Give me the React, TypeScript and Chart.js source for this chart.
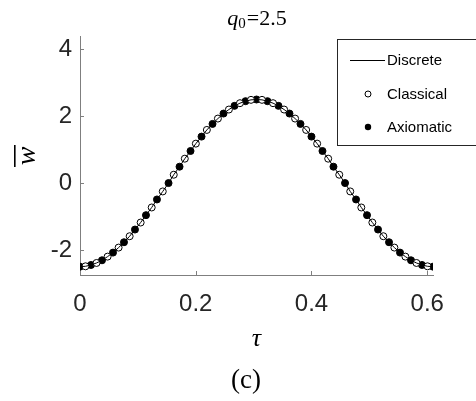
import React, { useEffect, useRef } from "react";
import { Chart, registerables } from "chart.js";

Chart.register(...registerables);

const axiomaticTau = [0, 0.019, 0.038, 0.057, 0.076, 0.095, 0.114, 0.133, 0.153, 0.172, 0.191, 0.21, 0.229, 0.248, 0.267, 0.286, 0.305, 0.324, 0.343, 0.362, 0.381, 0.4, 0.419, 0.438, 0.458, 0.477, 0.496, 0.515, 0.534, 0.553, 0.572, 0.591, 0.61];
const axiomaticW = [-2.5, -2.45, -2.31, -2.08, -1.77, -1.39, -0.96, -0.49, 0, 0.49, 0.96, 1.39, 1.77, 2.08, 2.31, 2.45, 2.5, 2.45, 2.31, 2.08, 1.77, 1.39, 0.96, 0.49, 0, -0.49, -0.96, -1.39, -1.77, -2.08, -2.31, -2.45, -2.5];
const classicalTau = [0.0095, 0.0286, 0.0477, 0.0667, 0.0858, 0.1048, 0.1239, 0.1430, 0.1620, 0.1811, 0.2002, 0.2192, 0.2383, 0.2573, 0.2764, 0.2955, 0.3145, 0.3336, 0.3527, 0.3717, 0.3908, 0.4098, 0.4289, 0.4480, 0.4670, 0.4861, 0.5052, 0.5242, 0.5433, 0.5623, 0.5814, 0.6005];
const classicalW = [-2.49, -2.39, -2.2, -1.93, -1.59, -1.18, -0.73, -0.25, 0.25, 0.73, 1.18, 1.59, 1.93, 2.2, 2.39, 2.49, 2.49, 2.39, 2.2, 1.93, 1.59, 1.18, 0.73, 0.25, -0.25, -0.73, -1.18, -1.59, -1.93, -2.2, -2.39, -2.49];
const xTicks = [0, 0.2, 0.4, 0.6];
const yTicks = [-2, 0, 2, 4];
const legendLabels = ["Discrete", "Classical", "Axiomatic"];

const AXIS = "#7f7f7f";

const decorPlugin = {
  id: "decor",
  afterDraw(chart: any) {
    const ctx = chart.ctx;
    const xs = chart.scales.x;
    const ys = chart.scales.y;
    const a = chart.chartArea;
    ctx.save();
    // inward ticks
    ctx.strokeStyle = AXIS;
    ctx.lineWidth = 1;
    ctx.beginPath();
    for (const t of xTicks) {
      const px = Math.round(xs.getPixelForValue(t)) + 0.5;
      ctx.moveTo(px, a.bottom);
      ctx.lineTo(px, a.bottom - 4);
    }
    for (const t of yTicks) {
      const py = Math.round(ys.getPixelForValue(t)) + 0.5;
      ctx.moveTo(a.left, py);
      ctx.lineTo(a.left + 4, py);
    }
    ctx.stroke();

    // title q0=2.5
    ctx.fillStyle = "#000";
    ctx.textBaseline = "alphabetic";
    const cx = (a.left + a.right) / 2;
    const f1 = "italic 22px 'Liberation Serif'";
    const f2 = "15px 'Liberation Serif'";
    const f3 = "22px 'Liberation Serif'";
    ctx.font = f1;
    const wq = ctx.measureText("q").width;
    ctx.font = f2;
    const w0 = ctx.measureText("0").width;
    ctx.font = f3;
    const wr = ctx.measureText("=2.5").width;
    let sx = cx - (wq + w0 + wr) / 2;
    const by = 25;
    ctx.textAlign = "left";
    ctx.font = f1;
    ctx.fillText("q", sx, by);
    sx += wq;
    ctx.font = f2;
    ctx.fillText("0", sx, by + 3);
    sx += w0 + 1;
    ctx.font = f3;
    ctx.fillText("=2.5", sx, by);

    // x label tau
    ctx.textAlign = "center";
    ctx.textBaseline = "middle";
    ctx.font = "italic 26px 'Liberation Serif'";
    ctx.fillText("τ", cx, 339);
    // (c)
    ctx.font = "27px 'Liberation Serif'";
    ctx.fillText("(c)", 246, 381);

    // y label w-bar
    ctx.save();
    ctx.translate(26, 156);
    ctx.rotate(-Math.PI / 2);
    ctx.font = "italic 28px 'Liberation Serif'";
    ctx.textAlign = "center";
    ctx.textBaseline = "middle";
    ctx.fillText("w", 0, 2);
    ctx.fillRect(-11, -12, 22, 1.6);
    ctx.restore();

    // legend
    const lx = 337.5, ly = 39.5;
    ctx.fillStyle = "#fff";
    ctx.fillRect(lx, ly, 150, 106);
    ctx.strokeStyle = "#262626";
    ctx.lineWidth = 1;
    ctx.strokeRect(lx, ly, 150, 106);
    ctx.fillStyle = "#000";
    ctx.font = "15px 'Liberation Sans'";
    ctx.textAlign = "left";
    ctx.textBaseline = "middle";
    const rows = [60, 94, 127];
    ctx.strokeStyle = "#000";
    ctx.beginPath();
    ctx.moveTo(350, rows[0] + 0.5);
    ctx.lineTo(385, rows[0] + 0.5);
    ctx.stroke();
    ctx.beginPath();
    ctx.arc(368, rows[1], 3, 0, Math.PI * 2);
    ctx.fillStyle = "#fff";
    ctx.fill();
    ctx.stroke();
    ctx.beginPath();
    ctx.arc(368, rows[2], 3.2, 0, Math.PI * 2);
    ctx.fillStyle = "#000";
    ctx.fill();
    legendLabels.forEach((l, i) => ctx.fillText(l, 387, rows[i] + 1));
    ctx.restore();
  },
};

export default function App() {
  const ref = useRef<HTMLCanvasElement | null>(null);
  useEffect(() => {
    document.body.style.margin = "0";
    const discrete = [
      ...axiomaticTau.map((t, i) => ({ x: t, y: axiomaticW[i] })),
      ...classicalTau.map((t, i) => ({ x: t, y: classicalW[i] })),
    ].sort((p, q) => p.x - q.x);
    const chart = new Chart(ref.current as HTMLCanvasElement, {
      type: "scatter",
      data: {
        datasets: [
          {
            label: "Discrete",
            data: discrete,
            showLine: true,
            borderColor: "#000",
            borderWidth: 1,
            pointRadius: 0,
            fill: false,
          } as any,
          {
            label: "Classical",
            data: classicalTau.map((t, i) => ({ x: t, y: classicalW[i] })),
            pointRadius: 3.5,
            pointBackgroundColor: "#fff",
            pointBorderColor: "#000",
            pointBorderWidth: 1,
          },
          {
            label: "Axiomatic",
            data: axiomaticTau.map((t, i) => ({ x: t, y: axiomaticW[i] })),
            pointRadius: 3.5,
            pointBackgroundColor: "#000",
            pointBorderColor: "#000",
            pointBorderWidth: 1,
          },
        ],
      },
      options: {
        animation: false,
        responsive: false,
        layout: { padding: { left: 0, top: 36, right: 43, bottom: 0 } },
        plugins: { legend: { display: false }, tooltip: { enabled: false } },
        scales: {
          x: {
            type: "linear",
            min: 0,
            max: 0.61,
            afterBuildTicks: (s: any) => {
              s.ticks = xTicks.map((v) => ({ value: v }));
            },
            afterFit: (s: any) => {
              s.height = 126;
            },
            grid: { display: false, drawTicks: false },
            border: { color: AXIS, width: 1 },
            ticks: {
              color: "#262626",
              padding: 15,
              maxRotation: 0,
              font: { family: "'Liberation Sans'", size: 24 },
              callback: (v: any) => String(v),
            },
          },
          y: {
            type: "linear",
            min: -2.75,
            max: 4.4,
            afterBuildTicks: (s: any) => {
              s.ticks = yTicks.map((v) => ({ value: v }));
            },
            afterFit: (s: any) => {
              s.width = 80;
            },
            grid: { display: false, drawTicks: false },
            border: { color: AXIS, width: 1 },
            ticks: {
              color: "#262626",
              padding: 8,
              font: { family: "'Liberation Sans'", size: 24 },
              callback: (v: any) => String(v),
            },
          },
        },
      },
      plugins: [decorPlugin],
    });
    return () => chart.destroy();
  }, []);
  return <canvas ref={ref} width={476} height={401} style={{ display: "block" }} />;
}
